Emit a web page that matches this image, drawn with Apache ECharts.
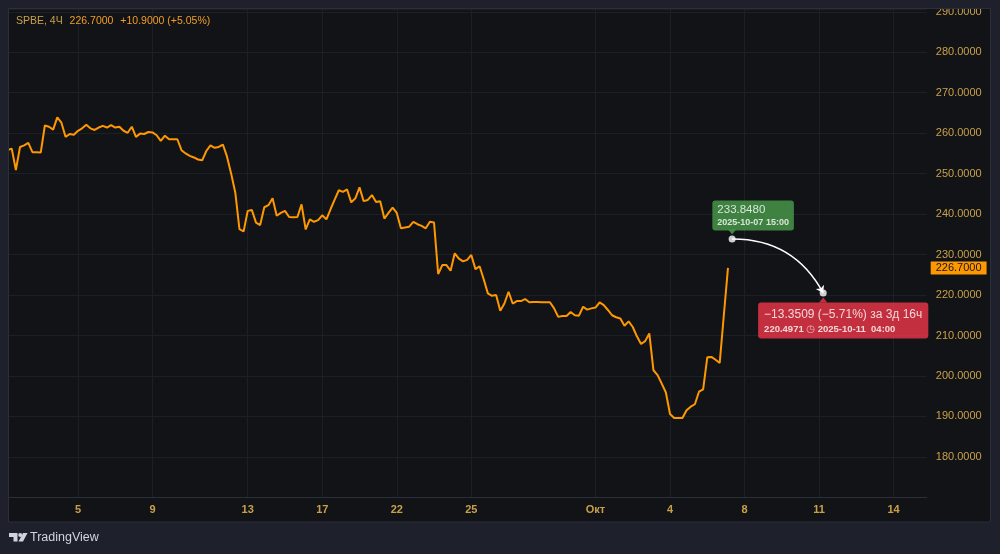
<!DOCTYPE html>
<html>
<head>
<meta charset="utf-8">
<title>SPBE, 4Ч</title>
<script src="https://cdn.jsdelivr.net/npm/echarts@6.0.0/dist/echarts.min.js"></script>
<style>
  html, body { margin: 0; padding: 0; background: #1e212c; }
  #chart { width: 1000px; height: 554px; }
</style>
</head>
<body>
<div id="chart"></div>
<script>
// 4h closes, one per bar slot (slot 0 = left edge of the visible range)
var priceValues = [
	255.8, 256.2, 250.9, 256.6, 257.0, 257.6, 255.3, 255.3, 255.2, 261.9,
	261.6, 260.9, 263.9, 262.6, 259.1, 259.8, 259.6, 260.6, 261.2, 262.1,
	261.2, 260.8, 261.4, 261.8, 261.4, 262.0, 261.4, 261.6, 260.6, 260.1,
	261.6, 259.1, 259.9, 259.8, 260.3, 260.2, 259.5, 258.1, 259.4, 258.5,
	258.5, 258.5, 255.8, 255.0, 254.4, 254.0, 253.5, 253.3, 255.6, 257.0,
	256.4, 256.6, 257.2, 254.2, 250.0, 245.3, 236.3, 235.7, 240.8, 241.0,
	237.9, 237.3, 241.7, 242.2, 243.9, 239.6, 240.3, 240.8, 239.3, 239.2,
	239.3, 242.4, 236.2, 238.7, 238.1, 238.5, 239.7, 238.7, 241.2, 243.6,
	245.9, 245.5, 246.1, 242.9, 243.9, 246.6, 243.2, 243.5, 244.7, 243.0,
	243.2, 238.9, 240.3, 241.6, 240.3, 236.5, 236.7, 236.9, 238.1, 237.5,
	237.1, 236.5, 238.1, 237.9, 225.2, 227.4, 227.4, 226.0, 230.3, 229.0,
	228.3, 228.7, 229.9, 226.4, 227.1, 223.9, 220.4, 219.8, 220.0, 216.1,
	217.9, 220.8, 217.9, 218.5, 218.5, 219.0, 218.2, 218.3, 218.3, 218.2,
	218.2, 218.2, 216.7, 214.6, 214.8, 214.8, 215.8, 215.0, 214.9, 217.1,
	216.4, 216.7, 216.9, 218.2, 217.5, 216.3, 215.0, 214.5, 214.2, 212.4,
	213.5, 212.1, 209.8, 207.9, 208.6, 210.5, 201.4, 200.2, 198.1, 195.9,
	190.6, 189.6, 189.6, 189.6, 191.5, 192.4, 193.0, 196.1, 196.7, 204.6,
	204.7, 204.0, 203.2, 215.0, 226.7
];

var slotCount = 223;
var dayLabels = ['5', '9', '13', '17', '22', '25', 'Окт', '4', '8', '11', '14'];
var dayLabelSlots = [17, 35, 58, 76, 94, 112, 142, 160, 178, 196, 214];

// price range measurement: [slot, price]
var measureStart = [175, 233.8480];
var measureEnd = [197, 220.4971];

var changeText = '−13.3509 (−5.71%) за 3д 16ч';
var startText = '2025-10-07 15:00';
var endText = '2025-10-11  04:00';

var categories = [];
for (var i = 0; i < slotCount; i++) categories.push('');
dayLabelSlots.forEach(function(s, k) { categories[s] = dayLabels[k]; });

var lastPrice = priceValues[priceValues.length - 1];

var FONT = '"Liberation Sans", "DejaVu Sans", sans-serif';
var gold = '#c9a04a';
var orange = '#ff9800';
var outer = '#1e212c';
var green = '#4a9e4b';
var red = '#f03749';

function isLabelSlot(idx, val) { return val !== ''; }

var chart = echarts.init(document.getElementById('chart'), null, { renderer: 'canvas' });

var option = {
	backgroundColor: '#111317',
	animation: false,
	textStyle: { fontFamily: FONT },
	title: {
		left: 16,
		top: 15.5,
		padding: 0,
		text: '{n|SPBE, 4Ч} {v|' + lastPrice.toFixed(4) + '} {v|+10.9000 (+5.05%)}',
		textStyle: {
			fontSize: 10.5,
			fontWeight: 'normal',
			rich: {
				n: { color: gold, fontSize: 10.5, fontWeight: 'normal', fontFamily: FONT },
				v: { color: '#f19d25', fontSize: 10.5, fontWeight: 'normal', fontFamily: FONT, padding: [0, 0, 0, 4] }
			}
		}
	},
	grid: { left: 7.6, right: 73.3, top: 9, bottom: 56.7 },
	xAxis: {
		type: 'category',
		data: categories,
		boundaryGap: false,
		axisLine: { show: true, lineStyle: { color: '#2b2f3a', width: 1 } },
		axisTick: { show: false },
		axisLabel: {
			interval: isLabelSlot,
			color: gold,
			fontSize: 11,
			fontWeight: 'bold',
			margin: 7,
			fontFamily: FONT
		},
		splitLine: { show: true, interval: isLabelSlot, lineStyle: { color: '#1c1f25', width: 1 } }
	},
	yAxis: {
		type: 'value',
		position: 'right',
		min: 170,
		max: 290.7,
		interval: 10,
		axisLine: { show: false },
		axisTick: { show: false },
		splitLine: { lineStyle: { color: '#1c1f25', width: 1 } },
		axisLabel: {
			align: 'right',
			margin: 55,
			color: gold,
			fontSize: 11,
			fontFamily: FONT,
			formatter: function(v) {
				if (v <= 170 || Math.abs(v - Math.round(v / 10) * 10) > 1e-6) return '';
				return v.toFixed(4);
			}
		}
	},
	series: [{
		name: 'SPBE',
		type: 'line',
		data: priceValues,
		showSymbol: false,
		clip: false,
		lineStyle: { color: orange, width: 2 },
		z: 3,
		markLine: {
			silent: true,
			symbol: 'none',
			data: [{ yAxis: lastPrice }],
			lineStyle: { color: 'rgba(0,0,0,0)', width: 0, type: 'solid' },
			label: {
				show: true,
				position: 'end',
				distance: 4,
				formatter: lastPrice.toFixed(4),
				backgroundColor: orange,
				color: '#131722',
				fontSize: 11,
				fontFamily: FONT,
				padding: [1, 5, 1, 5]
			}
		}
	}, {
		// curved arrow of the measure tool
		type: 'lines',
		coordinateSystem: 'cartesian2d',
		data: [{ coords: [measureStart, measureEnd] }],
		symbol: ['none', 'arrow'],
		symbolSize: 7,
		lineStyle: { color: '#ffffff', width: 1.5, curveness: 0.3, opacity: 1 },
		z: 5
	}, {
		// box pointers
		type: 'scatter',
		data: [
			{ value: measureStart, symbolRotate: 180, symbolOffset: [0, -7], itemStyle: { color: green } },
			{ value: measureEnd, symbolRotate: 0, symbolOffset: [0, 7], itemStyle: { color: red } }
		],
		symbol: 'triangle',
		symbolSize: [8, 5],
		silent: true,
		z: 6
	}, {
		type: 'scatter',
		symbolSize: 7,
		itemStyle: { color: '#ffffff' },
		z: 7,
		data: [{
			value: measureStart,
			label: {
				show: true,
				position: 'top',
				distance: 5,
				offset: [21, 0],
				backgroundColor: green,
				borderRadius: 3,
				padding: [2, 5, 2, 5],
				formatter: '{a|' + measureStart[1].toFixed(4) + '}\n{b|' + startText + '}',
				rich: {
					a: { color: '#ffffff', fontSize: 11.5, lineHeight: 14, align: 'left', fontFamily: FONT },
					b: { color: '#ffffff', fontSize: 9, fontWeight: 'bold', lineHeight: 12, align: 'left', fontFamily: FONT }
				}
			}
		}, {
			value: measureEnd,
			label: {
				show: true,
				position: 'bottom',
				distance: 6,
				offset: [20, 0],
				backgroundColor: red,
				borderRadius: 3,
				padding: [4, 6, 3, 6],
				formatter: '{a|' + changeText + '}\n{b|' + measureEnd[1].toFixed(4) + ' }{c|◷}{b| ' + endText + '}',
				rich: {
					a: { color: '#ffffff', fontSize: 12, lineHeight: 16, align: 'left', fontFamily: FONT },
					b: { color: '#ffffff', fontSize: 9.5, fontWeight: 'bold', lineHeight: 13, align: 'left', fontFamily: FONT },
					c: { color: 'rgba(255,255,255,0.75)', fontSize: 10, lineHeight: 13, align: 'left', fontFamily: '"DejaVu Sans", sans-serif' }
				}
			}
		}]
	}],
	graphic: [
		{ type: 'rect', z: 100, silent: true, shape: { x: 0, y: 0, width: 1000, height: 8.5 }, style: { fill: outer } },
		{ type: 'rect', z: 100, silent: true, shape: { x: 0, y: 0, width: 8.5, height: 554 }, style: { fill: outer } },
		{ type: 'rect', z: 100, silent: true, shape: { x: 991, y: 0, width: 9, height: 554 }, style: { fill: outer } },
		{ type: 'rect', z: 100, silent: true, shape: { x: 0, y: 522, width: 1000, height: 32 }, style: { fill: outer } },
		{ type: 'rect', z: 101, silent: true, shape: { x: 8.5, y: 8.5, width: 982, height: 513.5 }, style: { fill: null, stroke: '#2b2f3a', lineWidth: 1 } },
		// TradingView logo
		{ type: 'polygon', z: 101, silent: true, shape: { points: [[9, 533], [17.5, 533], [17.5, 541.5], [13.5, 541.5], [13.5, 537], [9, 537]] }, style: { fill: '#d1d4dc' } },
		{ type: 'circle', z: 101, silent: true, shape: { cx: 20.2, cy: 535, r: 2 }, style: { fill: '#d1d4dc' } },
		{ type: 'polygon', z: 101, silent: true, shape: { points: [[23, 533], [27.5, 533], [23, 541.5], [18.5, 541.5]] }, style: { fill: '#d1d4dc' } },
		{ type: 'text', z: 101, silent: true, x: 30, y: 531, style: { text: 'TradingView', fill: '#d1d4dc', fontSize: 12.5, fontFamily: FONT } }
	]
};

chart.setOption(option);
</script>
</body>
</html>
